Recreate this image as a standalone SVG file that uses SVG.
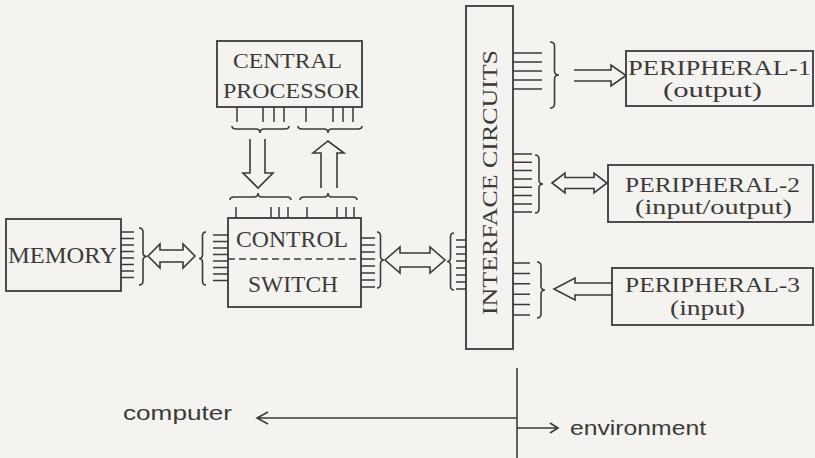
<svg xmlns="http://www.w3.org/2000/svg" width="815" height="458" viewBox="0 0 815 458">
<style>
.bg{fill:#f4f3ef}
.box{fill:none;stroke:#3a3a3a;stroke-width:1.8}
.ln{fill:none;stroke:#3a3a3a;stroke-width:1.6}
.tk{fill:none;stroke:#3a3a3a;stroke-width:1.5}
.ar{fill:none;stroke:#3a3a3a;stroke-width:1.6;stroke-linejoin:miter}
.dash{fill:none;stroke:#3a3a3a;stroke-width:1.6;stroke-dasharray:7 4}
.lbl{font-family:"Liberation Serif","DejaVu Serif",serif;fill:#3a3a3a;font-size:22px}
.big{font-size:24px}
.per{font-size:20px}
.sans{font-family:"Liberation Sans","DejaVu Sans",sans-serif;fill:#3a3a3a;font-size:20px}
</style>
<rect class="bg" x="0" y="0" width="815" height="458"/>

<g id="central-processor">
<rect class="box" x="217" y="41" width="145" height="66"/>
<text class="lbl" x="233" y="68" textLength="109" lengthAdjust="spacingAndGlyphs">CENTRAL</text>
<text class="lbl" x="223" y="98" textLength="137" lengthAdjust="spacingAndGlyphs">PROCESSOR</text>
<path class="tk" d="M237,107V122M263,107V122M274,107V122M284,107V122M306,107V122M333,107V122M343,107V122M353,107V122"/>
</g>

<g id="memory">
<rect class="box" x="6" y="219" width="115" height="72"/>
<text class="lbl big" x="8" y="263" textLength="109" lengthAdjust="spacingAndGlyphs">MEMORY</text>
<path class="tk" d="M121,232H134M121,238.5H134M121,245H134M121,251.5H134M121,258H134M121,264.5H134M121,271H134M121,277.5H134"/>
</g>

<g id="control-switch">
<rect class="box" x="228" y="218" width="133" height="89"/>
<line class="dash" x1="228" y1="259" x2="361" y2="259"/>
<text class="lbl big" x="236" y="247" textLength="112" lengthAdjust="spacingAndGlyphs">CONTROL</text>
<text class="lbl big" x="248" y="292" textLength="90" lengthAdjust="spacingAndGlyphs">SWITCH</text>
<path class="tk" d="M236,207V218M271,207V218M279,207V218M288,207V218M307,207V218M337,207V218M346,207V218M354,207V218"/>
<path class="tk" d="M213,235H228M213,241.5H228M213,248H228M213,254.5H228M213,261H228M213,267.5H228M213,274H228M213,280.5H228"/>
<path class="tk" d="M361,238H375M361,245H375M361,252H375M361,259H375M361,266H375M361,273H375M361,280H375M361,287H375"/>
</g>

<g id="interface-circuits">
<rect class="box" x="466" y="6" width="47" height="343"/>
<text class="lbl" transform="translate(497,315) rotate(-90)" x="0" y="0" textLength="265" lengthAdjust="spacingAndGlyphs">INTERFACE CIRCUITS</text>
<path class="tk" d="M456,240H466M456,247H466M456,254H466M456,261H466M456,268H466M456,275H466M456,282H466M456,289H466"/>
<path class="tk" d="M513,53H542M513,62H542M513,71H542M513,80H542M513,89H542"/>
<path class="tk" d="M513,154H532M513,162.3H532M513,170.6H532M513,179H532M513,187.3H532M513,195.6H532M513,204H532M513,212H532"/>
<path class="tk" d="M513,263H530M513,273.4H530M513,283.8H530M513,294.2H530M513,304.6H530M513,315H530"/>
</g>

<g id="peripheral-1">
<rect class="box" x="626" y="51" width="187" height="55"/>
<text class="lbl per" x="628" y="74.5" textLength="183" lengthAdjust="spacingAndGlyphs">PERIPHERAL-1</text>
<text class="lbl per" x="663" y="97" textLength="99" lengthAdjust="spacingAndGlyphs">(output)</text>
</g>

<g id="peripheral-2">
<rect class="box" x="608" y="165" width="205" height="57"/>
<text class="lbl per" x="625" y="191.5" textLength="175" lengthAdjust="spacingAndGlyphs">PERIPHERAL-2</text>
<text class="lbl per" x="635" y="214" textLength="157" lengthAdjust="spacingAndGlyphs">(input/output)</text>
</g>

<g id="peripheral-3">
<rect class="box" x="612" y="268" width="201" height="57"/>
<text class="lbl per" x="625" y="291.5" textLength="175" lengthAdjust="spacingAndGlyphs">PERIPHERAL-3</text>
<text class="lbl per" x="670" y="314.5" textLength="75" lengthAdjust="spacingAndGlyphs">(input)</text>
</g>

<g id="connectors">
<path class="ln" d="M232,126 Q232,129 236,129 H256 Q260,129 260,133 Q260,129 264,129 H285 Q289,129 289,126"/>
<path class="ln" d="M298,126 Q298,129 302,129 H324 Q328,129 328,133 Q328,129 332,129 H358 Q362,129 362,126"/>
<path class="ln" d="M230,200 Q230,197 234,197 H254 Q258,197 258,193 Q258,197 262,197 H287 Q291,197 291,200"/>
<path class="ln" d="M300,200 Q300,197 304,197 H324 Q328,197 328,193 Q328,197 332,197 H353 Q357,197 357,200"/>
<path class="ln" d="M139,228 Q143,228 143,232 V252.5 Q143,256.5 147,256.5 Q143,256.5 143,260.5 V281 Q143,285 139,285"/>
<path class="ln" d="M206,232 Q202.5,232 202.5,236 V254.5 Q202.5,258.5 199,258.5 Q202.5,258.5 202.5,262.5 V281 Q202.5,285 206,285"/>
<path class="ln" d="M377,232 Q380.5,232 380.5,236 V256 Q380.5,260 384,260 Q380.5,260 380.5,264 V284 Q380.5,288 377,288"/>
<path class="ln" d="M454,233 Q450.5,233 450.5,237 V257.5 Q450.5,261.5 447,261.5 Q450.5,261.5 450.5,265.5 V286 Q450.5,290 454,290"/>
<path class="ln" d="M550,42 Q554.5,42 554.5,46 V71 Q554.5,75 559,75 Q554.5,75 554.5,79 V104 Q554.5,108 550,108"/>
<path class="ln" d="M535,155 Q539,155 539,159 V180 Q539,184 543,184 Q539,184 539,188 V209 Q539,213 535,213"/>
<path class="ln" d="M537,262 Q541,262 541,266 V286 Q541,290 545,290 Q541,290 541,294 V314 Q541,318 537,318"/>
<path class="ar" d="M250,139 V173 H243 L258,188 L273,173 H265 V139"/>
<path class="ar" d="M321,188 V153 H313 L328,141 L344,153 H337 V188"/>
<path class="ar" d="M148,256 L160,244 V250 H183 V244 L195,256 L183,268 V262 H160 V268 Z"/>
<path class="ar" d="M385,260 L400,247 V253 H430 V247 L445,260 L430,273 V267 H400 V273 Z"/>
<path class="ar" d="M574,70 H611 V65 L626,75.5 L611,86 V81 H574"/>
<path class="ar" d="M552,183 L565,173 V177.5 H594 V173 L607,183 L594,193 V188.5 H565 V193 Z"/>
<path class="ar" d="M612,283 H575 V278 L554,289 L575,300 V295 H612"/>
<path class="ln" d="M517,368 V458"/>
<path class="ln" d="M517,418 H258 M268,412 L257,418 L268,424"/>
<path class="ln" d="M517,428 H558 M550,423 L558,428 L550,433"/>
</g>

<g id="labels">
<text class="sans" x="123" y="420" textLength="109" lengthAdjust="spacingAndGlyphs">computer</text>
<text class="sans" x="570" y="435" textLength="136" lengthAdjust="spacingAndGlyphs">environment</text>
</g>
</svg>
